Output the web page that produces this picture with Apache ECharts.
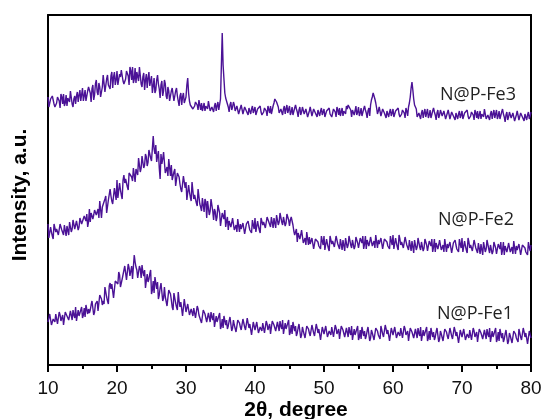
<!DOCTYPE html>
<html>
<head>
<meta charset="utf-8">
<script src="https://cdn.jsdelivr.net/npm/echarts@6/dist/echarts.min.js"></script>
<style>html,body{margin:0;padding:0;background:#fff;}#chart{width:542px;height:419px;}</style>
</head>
<body>
<div id="chart"></div>
<script>
// 2θ sampling grid of the scans (degrees): main readings every 0.25°, in-between readings at +0.125°
const angleStart = 10;
const angleStep = 0.25;
const xTicks = [10, 20, 30, 40, 50, 60, 70, 80];
const seriesNames = ['N@P-Fe3', 'N@P-Fe2', 'N@P-Fe1'];

// stacked (offset) intensities, a.u. (one row per 2 degrees)
const fe3 = [
268,259,264,270, 258,262,268,257,
268,271,262,259, 268,274,261,266,
261,273,270,264, 277,269,264,274,
277,263,280,270, 285,270,278,273,
290,273,286,280, 276,293,288,280,
294,282,288,296, 281,286,294,280,
294,298,286,282, 291,298,281,288,
275,291,287,279, 289,279,272,285,
281,267,284,274, 281,266,274,269,
277,264,274,269, 259,272,268,262,
268,287,264,258, 256,259,263,255,
260,262,256,254, 259,264,254,258,
253,262,259,255, 266,332,286,267,
261,253,263,258, 260,252,257,254,
260,251,258,254, 250,259,256,252,
258,251,255,259, 250,253,257,249,
257,259,253,262, 268,265,252,256,
250,259,256,252, 259,253,250,257,
256,248,258,253, 257,249,254,251,
258,249,256,252, 248,257,254,250,
256,249,253,257, 249,252,256,248,
255,257,251,249, 254,259,260,258,
248,257,254,250, 258,252,249,256,
255,247,257,260, 268,271,262,251,
258,249,256,252, 247,256,253,249,
256,249,253,257, 248,251,255,247,
254,258,268,283, 266,258,248,252,
246,255,252,248, 256,250,247,254,
253,245,255,250, 255,247,252,249,
255,246,253,249, 245,254,251,247,
254,247,251,255, 246,249,253,245,
252,254,248,246, 251,256,246,250,
245,254,251,247, 255,249,246,253,
251,243,253,248, 253,245,250,247,
254,245,252,248, 244,253,250,246,
253
];
const fe3Mid = [
258,266,269,261, 257,268,264,271,
261,259,270,267, 263,272,258,269,
269,263,275,266, 264,275,266,278,
272,276,265,281, 273,282,268,278,
288,274,290,278, 289,277,293,285,
280,291,295,284, 280,294,289,298,
285,282,297,293, 284,296,278,292,
285,277,293,281, 272,287,275,290,
276,280,269,285, 269,278,264,274,
275,265,277,268, 269,260,272,262,
280,272,260,260, 255,263,260,265,
255,254,262,259, 256,262,252,260,
259,254,263,257, 268,300,272,265,
258,260,255,263, 254,259,251,257,
259,251,260,254, 257,251,259,255,
250,256,258,253, 249,257,254,259,
252,251,259,266, 263,258,250,258,
256,251,260,254, 250,258,251,260,
253,255,250,258, 251,256,248,254,
257,249,258,252, 255,249,257,253,
248,254,256,251, 248,256,253,258,
250,249,257,254, 251,256,262,255,
255,250,259,253, 249,257,250,259,
252,254,249,265, 272,266,257,254,
257,249,258,252, 254,248,256,252,
248,254,256,251, 247,255,252,257,
249,262,277,275, 260,256,246,254,
252,247,256,250, 247,255,248,257,
250,252,247,255, 249,254,246,252,
254,246,255,249, 252,246,254,250,
246,252,254,249, 245,253,250,255,
247,246,254,251, 248,254,244,252,
251,246,255,249, 246,254,247,256,
248,250,245,253, 247,252,244,250,
253,245,254,248, 251,245,253,249
];
const fe2 = [
141,128,133,126, 139,136,130,141,
135,130,140,139, 130,143,136,144,
136,142,138,148, 139,149,144,138,
156,152,146,155, 150,156,164,147,
158,166,152,165, 176,164,160,171,
185,168,175,166, 190,186,178,192,
191,184,197,196, 190,207,197,208,
200,208,203,216, 204,229,211,203,
214,186,201,213, 192,198,206,189,
185,193,179,192, 188,176,172,183,
183,166,173,164, 174,170,162,176,
161,154,167,166, 147,164,154,165,
145,153,148,161, 139,152,146,138,
148,144,138,147, 135,140,146,133,
136,142,131,141, 144,135,132,140,
147,134,139,132, 146,143,137,148,
143,138,148,147, 137,150,143,151,
140,146,142,152, 139,148,140,130,
136,132,126,135, 122,127,133,120,
121,127,116,126, 128,119,116,124,
129,116,121,114, 127,124,118,129,
121,116,126,125, 114,127,120,128,
117,123,119,129, 117,127,122,116,
129,125,119,128, 119,124,130,117,
121,127,116,126, 128,119,116,124,
130,117,122,115, 126,123,117,128,
120,115,125,124, 112,125,118,126,
115,121,117,127, 114,124,119,113,
126,122,116,125, 115,120,126,113,
117,123,112,122, 125,116,113,121,
127,114,119,112, 123,120,114,125,
117,112,122,121, 110,123,116,124,
112,118,114,124, 111,121,116,110,
123,119,113,122, 113,118,124,111,
115,121,110,120, 122,113,110,118,
120
];
const fe2Mid = [
127,138,129,141, 133,136,128,140,
133,140,129,137, 143,133,145,136,
144,135,147,141, 140,148,151,143,
143,154,150,157, 150,147,162,158,
157,169,151,165, 169,161,177,165,
167,182,170,185, 182,186,175,191,
188,197,183,193, 207,193,209,197,
211,199,215,207, 205,216,220,209,
197,211,206,215, 192,189,204,200,
184,196,178,192, 181,173,189,177,
165,180,168,183, 166,170,159,175,
158,167,153,163, 164,150,166,154,
156,144,160,152, 140,151,155,144,
135,146,142,149, 135,133,144,141,
135,144,130,141, 139,133,145,136,
133,144,135,147, 140,143,135,147,
141,148,137,145, 150,140,152,143,
148,139,151,145, 145,144,134,131,
123,134,130,137, 122,120,131,128,
120,129,115,126, 123,117,129,120,
115,126,117,129, 121,124,116,128,
119,126,115,123, 127,117,129,120,
125,116,128,122, 118,126,129,121,
116,127,123,130, 119,117,128,125,
120,129,115,126, 123,117,129,120,
116,127,118,130, 120,123,115,127,
118,125,114,122, 125,115,127,118,
123,114,126,120, 115,123,126,118,
113,124,120,127, 115,113,124,121,
116,125,111,122, 120,114,126,117,
113,124,115,127, 117,120,112,124,
115,122,111,119, 123,113,125,116,
120,111,123,117, 112,120,123,115,
110,121,117,124, 113,111,122,119,
114,123,109,120, 117,111,123,114
];
const fe1 = [
43,51,40,46, 43,53,40,50,
46,40,53,49, 45,54,45,50,
58,45,49,55, 47,57,60,51,
52,60,66,53, 63,54,70,66,
64,78,68,61, 82,81,67,84,
82,93,78,86, 88,101,84,97,
94,86,110,98, 87,99,87,93,
95,78,83,91, 71,84,88,76,
66,77,84,67, 68,59,75,71,
58,72,62,55, 64,63,49,66,
53,61,50,56, 49,59,46,56,
48,42,55,51, 43,52,43,48,
52,39,43,49, 36,46,49,40,
36,44,50,37, 40,33,45,42,
35,46,38,33, 42,41,30,43,
35,43,32,38, 34,44,31,41,
37,31,44,40, 34,43,34,39,
45,32,36,42, 30,40,43,34,
29,37,43,30, 34,27,39,36,
29,40,32,27, 37,36,25,38,
31,39,28,34, 30,40,27,37,
32,26,39,35, 28,37,28,33,
39,26,30,36, 25,35,38,29,
26,34,40,27, 32,25,37,34,
28,39,31,26, 36,35,24,37,
30,38,27,33, 29,39,26,36,
30,24,37,33, 27,36,27,32,
38,25,29,35, 24,34,37,28,
25,33,39,26, 31,24,36,33,
26,37,29,24, 34,33,22,35,
28,36,25,31, 27,37,24,34,
29,23,36,32, 26,35,26,31,
37,24,28,34, 23,33,36,27,
23,31,37,24, 29,22,34,31,
25,36,28,23, 33,32,21,34,
27
];
const fe1Mid = [
42,49,38,46, 51,41,53,44,
50,41,53,47, 44,52,55,47,
44,55,51,58, 50,48,59,56,
55,64,50,61, 64,56,72,60,
61,76,64,79, 76,80,69,85,
81,90,76,86, 99,85,101,89,
99,87,103,95, 85,96,100,89,
77,91,86,95, 75,72,87,83,
70,82,64,78, 69,61,77,65,
55,70,58,73, 58,62,51,67,
52,59,48,56, 57,47,59,50,
52,43,55,49, 42,50,53,45,
38,49,45,52, 39,37,48,45,
39,48,34,45, 41,35,47,38,
33,44,35,47, 37,40,32,44,
34,41,30,38, 42,32,44,35,
41,32,44,38, 33,41,44,36,
31,42,38,45, 33,31,42,39,
32,41,27,38, 35,29,41,32,
27,38,29,41, 32,35,27,39,
30,37,26,34, 38,28,40,31,
36,27,39,33, 27,35,38,30,
25,36,32,39, 28,26,37,34,
29,38,24,35, 33,27,39,30,
26,37,28,40, 31,34,26,38,
29,36,25,33, 37,27,39,30,
34,25,37,31, 26,34,37,29,
24,35,31,38, 27,25,36,33,
28,37,23,34, 32,26,38,29,
24,35,26,38, 29,32,24,36,
27,34,23,31, 35,25,37,28,
33,24,36,30, 25,33,36,28,
23,34,30,37, 26,24,35,32,
26,35,21,32, 30,24,36,27,
23,34,25,37, 28,31,23,35
];

// pair each main reading with its angle, followed by the in-between reading
function pairs(vals, mids) {
  const out = [];
  vals.forEach((v, i) => {
    out.push([angleStart + i * angleStep, v]);
    if (i < mids.length) out.push([angleStart + (i + 0.5) * angleStep, mids[i]]);
  });
  return out;
}

const lineColor = '#4b1296';
const frame = {show: true, onZero: false, lineStyle: {color: '#000', width: 2}};
const chart = echarts.init(document.getElementById('chart'), null, {renderer: 'canvas'});
chart.setOption({
  animation: false,
  backgroundColor: '#fff',
  grid: {left: 48, right: 11, top: 15, bottom: 54, containLabel: false, outerBoundsMode: 'none'},
  xAxis: [{
    type: 'value', min: xTicks[0], max: xTicks[xTicks.length - 1], interval: 10,
    axisLine: frame,
    axisTick: {show: true, length: 7, lineStyle: {color: '#000', width: 2}},
    minorTick: {show: true, splitNumber: 2, length: 4, lineStyle: {color: '#000', width: 2}},
    axisLabel: {fontFamily: 'Liberation Sans', fontSize: 19, color: '#111', margin: 14},
    splitLine: {show: false}
  }, {
    type: 'value', position: 'top', min: xTicks[0], max: xTicks[xTicks.length - 1],
    axisLine: frame, axisTick: {show: false}, axisLabel: {show: false}, splitLine: {show: false}
  }],
  yAxis: [{
    type: 'value', min: 0, max: 350,
    axisLine: frame,
    axisTick: {show: false}, axisLabel: {show: false}, splitLine: {show: false}
  }, {
    type: 'value', position: 'right', min: 0, max: 350,
    axisLine: frame,
    axisTick: {show: false}, axisLabel: {show: false}, splitLine: {show: false}
  }],
  series: [[fe3, fe3Mid], [fe2, fe2Mid], [fe1, fe1Mid]].map((d, k) => ({
    name: seriesNames[k], type: 'line', data: pairs(d[0], d[1]), symbol: 'none',
    lineStyle: {color: lineColor, width: 1.4}, z: 2
  })),
  graphic: [
    {type: 'text', x: 31, y: 195, rotation: Math.PI / 2,
     style: {text: 'Intensity, a.u.', font: 'bold 21px "Liberation Sans"', fill: '#000', textAlign: 'center', textVerticalAlign: 'bottom'}},
    {type: 'text', x: 296, y: 410,
     style: {text: '2θ, degree', font: 'bold 21px "Liberation Sans"', fill: '#000', textAlign: 'center', textVerticalAlign: 'middle'}},
    {type: 'text', left: 440, top: 86, style: {text: seriesNames[0], font: '18px "Open Sans"', fill: '#222'}},
    {type: 'text', left: 438, top: 211, style: {text: seriesNames[1], font: '18px "Open Sans"', fill: '#222'}},
    {type: 'text', left: 437, top: 305, style: {text: seriesNames[2], font: '18px "Open Sans"', fill: '#222'}}
  ]
});
</script>
</body>
</html>
